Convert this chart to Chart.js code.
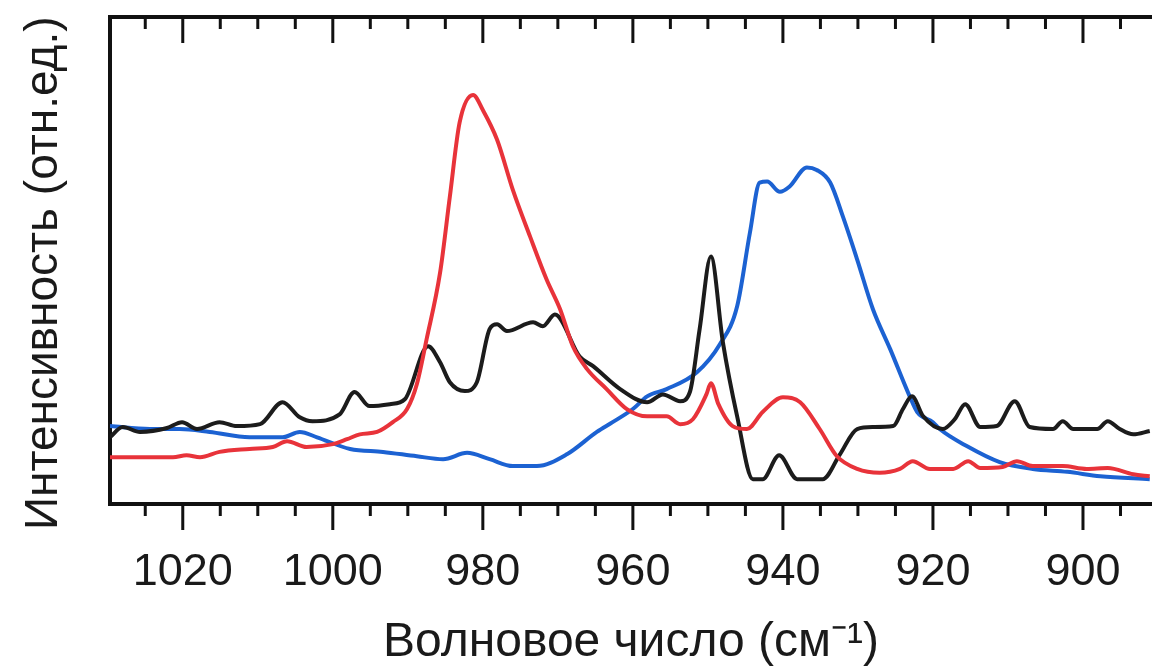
<!DOCTYPE html>
<html>
<head>
<meta charset="utf-8">
<script src="https://cdn.jsdelivr.net/npm/chart.js@4/dist/chart.umd.min.js"></script>
<style>
  body { margin: 0; background: #fff; }
  #wrap { width: 1152px; height: 672px; }
</style>
</head>
<body>
<div id="wrap"><canvas id="spectrum"></canvas></div>
<script>
// tick labels of the wavenumber axis (cm^-1)
const xTickLabels = [900, 920, 940, 960, 980, 1000, 1020];

// black spectrum
const blackX = [1029.7, 1028.0, 1025.7, 1022.1, 1020.1, 1018.1, 1015.1, 1012.8, 1009.7, 1006.7, 1004.4, 1002.7, 999.1, 997.1, 995.1, 992.4, 990.4, 987.3, 985.7, 984.4, 982.4, 980.8, 979.1, 978.1, 976.8, 973.3, 972.0, 970.4, 967.1, 965.3, 961.7, 958.1, 956.0, 953.7, 952.4, 951.1, 949.6, 948.0, 946.1, 944.0, 942.7, 940.5, 938.1, 934.7, 932.4, 930.1, 928.0, 925.3, 924.0, 922.8, 921.3, 918.7, 917.1, 915.7, 913.7, 911.5, 909.1, 907.1, 904.0, 902.7, 901.3, 898.1, 896.7, 895.1, 893.3, 891.1];
const blackY = [13.7, 15.8, 14.8, 15.6, 16.8, 15.4, 16.8, 16.0, 16.4, 20.9, 17.8, 17.0, 18.4, 23.0, 20.1, 20.5, 21.5, 32.4, 29.1, 25.0, 23.2, 25.0, 35.9, 36.9, 35.5, 37.3, 36.5, 38.9, 30.3, 28.3, 23.6, 20.9, 22.5, 21.1, 23.0, 35.9, 50.8, 33.2, 18.0, 5.1, 5.1, 10.0, 5.1, 5.1, 10.2, 15.4, 15.8, 16.0, 19.5, 22.1, 18.0, 15.4, 17.4, 20.5, 15.8, 16.0, 21.1, 15.8, 15.4, 17.0, 15.4, 15.4, 17.0, 15.4, 14.3, 15.0];

// red spectrum
const redX = [1029.7, 1026.7, 1021.3, 1019.5, 1017.7, 1015.1, 1011.1, 1008.0, 1006.1, 1003.5, 1000.0, 998.1, 996.4, 994.1, 992.0, 990.1, 988.8, 987.5, 985.7, 984.4, 983.1, 981.3, 980.0, 978.1, 976.0, 973.7, 971.5, 969.7, 968.0, 966.1, 963.5, 960.8, 958.1, 955.5, 953.7, 952.0, 950.2, 949.6, 948.6, 946.7, 944.8, 942.7, 940.0, 937.7, 935.1, 932.8, 930.1, 927.1, 924.4, 922.7, 920.4, 917.3, 915.3, 913.7, 910.7, 908.8, 906.7, 902.7, 899.5, 896.7, 893.3, 891.1];
const redY = [9.6, 9.6, 9.6, 10.0, 9.6, 10.7, 11.3, 11.7, 12.9, 11.7, 12.3, 13.3, 14.3, 14.8, 16.8, 19.5, 24.6, 33.8, 47.5, 63.1, 78.3, 84.0, 80.9, 74.8, 64.5, 54.9, 46.1, 40.0, 32.4, 27.7, 23.6, 19.5, 18.0, 18.0, 16.4, 17.4, 22.5, 24.8, 20.5, 16.0, 15.4, 18.9, 21.9, 20.9, 15.4, 9.8, 7.2, 6.4, 7.2, 8.8, 7.2, 7.2, 8.8, 7.4, 7.6, 8.8, 7.8, 7.8, 7.2, 7.4, 6.1, 5.7];

// blue spectrum
const blueX = [1029.7, 1024.4, 1020.4, 1016.4, 1011.1, 1006.7, 1004.4, 1002.1, 997.7, 993.3, 988.8, 985.3, 982.1, 979.1, 976.0, 972.8, 968.8, 964.8, 962.7, 960.0, 958.1, 955.5, 951.5, 948.4, 946.1, 944.4, 943.1, 942.1, 940.4, 939.1, 936.8, 935.5, 933.7, 932.0, 930.1, 928.0, 925.7, 923.1, 922.1, 920.0, 919.1, 915.5, 911.1, 906.7, 902.1, 897.7, 891.1];
const blueY = [16.0, 15.4, 15.4, 14.8, 13.7, 13.7, 14.8, 13.7, 11.3, 10.7, 9.8, 9.2, 10.5, 9.2, 7.8, 7.8, 10.2, 14.8, 16.8, 19.5, 22.1, 23.6, 27.0, 32.8, 40.6, 55.7, 66.0, 66.2, 64.1, 65.2, 69.1, 68.6, 66.0, 59.0, 50.2, 40.0, 31.8, 22.1, 18.9, 16.8, 15.4, 11.9, 8.6, 7.2, 6.6, 5.7, 5.1];

const pts = (xs, ys) => xs.map((x, i) => ({ x: x, y: ys[i] }));

const FONT = "'Liberation Sans', Arial, sans-serif";
const INK = '#1a1a1a';

// frame on top and the tick marks (major every 20, minor every 5)
const frameTicks = {
  id: 'frameTicks',
  afterDatasetsDraw(chart) {
    const { ctx, chartArea: a, scales: { x } } = chart;
    ctx.save();
    ctx.strokeStyle = '#111';
    ctx.lineWidth = 4;
    ctx.beginPath();
    ctx.moveTo(a.left - 2, a.top);
    ctx.lineTo(a.right, a.top);
    ctx.stroke();
    ctx.lineWidth = 3;
    for (let v = 895; v <= 1025; v += 5) {
      const px = x.getPixelForValue(v);
      const len = v % 20 === 0 ? 26 : 12;
      ctx.beginPath();
      ctx.moveTo(px, a.top);
      ctx.lineTo(px, a.top + len);
      ctx.moveTo(px, a.bottom);
      ctx.lineTo(px, a.bottom + len);
      ctx.stroke();
    }
    ctx.restore();
  }
};

new Chart(document.getElementById('spectrum'), {
  type: 'line',
  data: {
    datasets: [
      { data: pts(redX, redY), borderColor: '#e8333a' },
      { data: pts(blackX, blackY), borderColor: '#1c1c1c' },
      { data: pts(blueX, blueY), borderColor: '#1c62d2' }
    ]
  },
  options: {
    responsive: true,
    maintainAspectRatio: false,
    animation: false,
    layout: { padding: { top: 17, right: 0, bottom: 0, left: 0 } },
    elements: {
      point: { radius: 0 },
      line: { borderWidth: 4, cubicInterpolationMode: 'monotone', fill: false }
    },
    plugins: { legend: { display: false }, tooltip: { enabled: false } },
    scales: {
      x: {
        type: 'linear',
        reverse: true,
        min: 890.8,
        max: 1029.7,
        afterBuildTicks: (axis) => { axis.ticks = xTickLabels.map(v => ({ value: v })); },
        afterFit: (scale) => { scale.height = 168; },
        grid: { display: false, drawTicks: false },
        border: { display: true, color: '#111', width: 4 },
        ticks: {
          autoSkip: false,
          maxRotation: 0,
          padding: 42,
          color: INK,
          font: { family: FONT, size: 45 },
          callback: (v) => String(v)
        },
        title: {
          display: true,
          text: 'Волновое число (см⁻¹)',
          color: INK,
          font: { family: FONT, size: 48 },
          padding: { top: 0, bottom: 0 }
        }
      },
      y: {
        min: 0,
        max: 100,
        afterFit: (scale) => { scale.width = 110; },
        grid: { display: false, drawTicks: false },
        border: { display: true, color: '#111', width: 4 },
        ticks: { display: false },
        title: {
          display: true,
          // trailing spaces push the centred title a little lower, as in the original
          text: 'Интенсивность (отн.ед.)\u00a0\u00a0',
          color: INK,
          font: { family: FONT, size: 46 },
          padding: { top: 17, bottom: 0 }
        }
      }
    }
  },
  plugins: [frameTicks]
});
</script>
</body>
</html>
